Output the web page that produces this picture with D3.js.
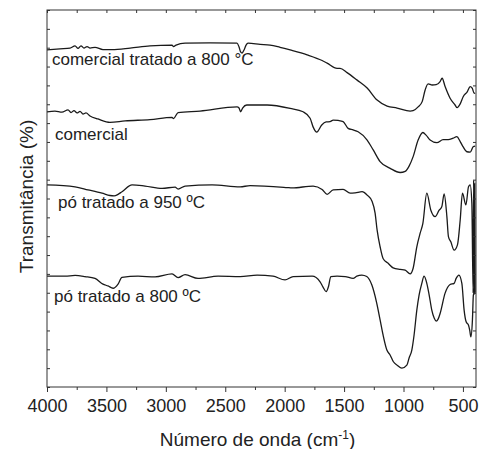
<!DOCTYPE html>
<html>
<head>
<meta charset="utf-8">
<script src="https://cdn.jsdelivr.net/npm/d3@7"></script>
<style>
  body { margin: 0; background: #fff; }
  text { font-family: "Liberation Sans", Arial, sans-serif; fill: #222; }
</style>
</head>
<body>
<div id="chart"></div>
<script>
// FTIR spectra, values (arbitrary transmittance units 0-100)
var comercialTratado800 = [
  [4000, 89.4], [3891, 89.7], [3806, 89.9], [3764, 90.5], [3739, 89.8], [3714, 90.5],
  [3689, 89.9], [3663, 90.3], [3638, 89.9], [3596, 90.1], [3529, 89.5], [3453, 89.5],
  [3301, 89.9], [3133, 90.5], [2948, 90.7], [2935, 90.3], [2914, 90.7], [2838, 91.2],
  [2628, 91.3], [2401, 91.2], [2384, 90.2], [2371, 88.9], [2358, 88.6], [2342, 89.4],
  [2325, 90.7], [2308, 91.2], [2206, 90.9], [2123, 90.7], [2039, 90.1], [1954, 89.4],
  [1811, 88.1], [1685, 86.6], [1643, 85.9], [1559, 84.5], [1534, 84.5], [1475, 83.4],
  [1390, 81.4], [1306, 79.3], [1222, 76.1], [1138, 74.5], [1054, 74.0], [944, 73.2],
  [919, 73.3], [877, 74.3], [843, 75.7], [818, 78.8], [793, 80.4], [759, 80.1],
  [725, 80.2], [692, 81.0], [675, 81.9], [650, 79.7], [608, 76.6], [566, 74.8],
  [549, 74.1], [523, 75.1], [498, 77.0], [464, 78.3], [439, 79.7], [422, 79.3],
  [405, 77.9], [397, 78.0]
];
var comercial = [
  [4000, 73.0], [3933, 73.2], [3874, 72.9], [3823, 73.5], [3798, 72.8], [3773, 73.3],
  [3747, 72.7], [3722, 73.1], [3697, 72.4], [3672, 72.7], [3638, 71.9], [3571, 71.1],
  [3470, 70.2], [3343, 70.6], [3133, 70.9], [2948, 71.5], [2935, 71.2], [2897, 72.8],
  [2712, 73.2], [2401, 74.3], [2384, 74.0], [2371, 73.0], [2354, 74.0], [2319, 74.8],
  [2148, 74.8], [1954, 73.9], [1845, 73.0], [1786, 71.3], [1761, 69.0], [1730, 67.6],
  [1688, 69.5], [1651, 70.3], [1618, 70.4], [1592, 70.8], [1550, 70.7], [1508, 70.4],
  [1466, 68.6], [1424, 68.2], [1382, 67.7], [1306, 65.5], [1255, 62.9], [1197, 59.8],
  [1112, 58.0], [1028, 56.9], [986, 57.2], [953, 58.6], [919, 61.1], [877, 65.5],
  [837, 67.5], [810, 66.8], [776, 65.5], [719, 64.8], [667, 65.6], [624, 65.6],
  [582, 66.0], [551, 66.4], [523, 65.1], [498, 63.7], [467, 62.4], [439, 62.3],
  [414, 63.7], [397, 63.9]
];
var poTratado950 = [
  [4000, 53.6], [3764, 53.1], [3655, 52.3], [3537, 51.4], [3470, 50.8], [3436, 50.7],
  [3402, 51.1], [3369, 51.8], [3284, 53.6], [3175, 53.3], [3032, 52.7], [2922, 53.0],
  [2897, 52.5], [2838, 53.3], [2611, 53.6], [2375, 53.1], [2291, 53.4], [1980, 52.9],
  [1938, 52.8], [1761, 53.3], [1685, 52.4], [1643, 51.1], [1592, 52.3], [1508, 52.4],
  [1449, 51.4], [1407, 51.5], [1348, 51.8], [1306, 50.9], [1264, 49.2], [1239, 46.1],
  [1222, 41.6], [1197, 37.2], [1172, 34.1], [1129, 32.8], [1087, 31.6], [1028, 31.2],
  [986, 31.0], [944, 30.0], [919, 31.5], [888, 37.2], [860, 40.8], [837, 43.4],
  [804, 51.4], [770, 46.9], [734, 45.2], [700, 46.9], [678, 47.8], [658, 51.2],
  [635, 45.2], [622, 39.9], [602, 38.5], [574, 36.3], [546, 37.7], [523, 44.3],
  [504, 51.4], [475, 48.3], [453, 53.1], [439, 53.6], [425, 48.8], [414, 24.9],
  [410, 54.9], [405, 24.5], [401, 54.0], [397, 25.0]
];
var poTratado800 = [
  [4000, 29.4], [3848, 29.4], [3764, 29.6], [3680, 29.3], [3596, 28.8], [3529, 27.3],
  [3487, 26.8], [3444, 26.2], [3402, 27.3], [3369, 29.1], [3234, 29.4], [3091, 29.2],
  [2948, 30.0], [2897, 29.0], [2838, 29.8], [2729, 28.8], [2561, 29.4], [2375, 29.3],
  [2232, 29.7], [2098, 29.4], [1997, 28.4], [1929, 29.3], [1769, 29.4], [1702, 27.9],
  [1677, 26.5], [1651, 25.3], [1630, 26.8], [1612, 29.3], [1559, 29.4], [1491, 29.3],
  [1424, 28.8], [1393, 29.4], [1351, 29.7], [1309, 29.3], [1267, 27.1], [1225, 22.2],
  [1197, 17.8], [1172, 13.8], [1140, 9.8], [1113, 8.5], [1085, 6.7], [1054, 5.8],
  [1014, 5.0], [972, 5.8], [953, 7.7], [930, 9.8], [911, 13.8], [888, 20.4],
  [869, 24.4], [846, 27.5], [827, 29.4], [804, 27.5], [784, 24.4], [762, 20.4],
  [742, 18.3], [725, 17.5], [709, 18.0], [692, 19.5], [650, 24.9], [608, 27.2],
  [574, 27.5], [557, 28.8], [534, 29.7], [509, 27.5], [490, 20.4], [473, 17.3],
  [453, 16.4], [443, 15.1], [433, 13.3], [420, 17.8], [412, 24.4], [405, 24.9],
  [397, 24.7]
];
var series = [comercialTratado800, comercial, poTratado950, poTratado800];
var seriesLabels = ["comercial tratado a 800 °C", "comercial", "pó tratado a 950 ºC", "pó tratado a 800 ºC"];
var majorTicks = [4000, 3500, 3000, 2500, 2000, 1500, 1000, 500];
var minorTicks = [3750, 3250, 2750, 2250, 1750, 1250, 750];

var margin = {top: 10, right: 7, bottom: 62, left: 47},
    width = 483 - margin.left - margin.right,
    height = 449 - margin.top - margin.bottom;

var x = d3.scaleLinear().domain([4000, 390]).range([0, width]);
var y = d3.scaleLinear().domain([0, 100]).range([height, 0]);

var svg = d3.select("#chart").append("svg")
    .attr("width", 483)
    .attr("height", 449)
  .append("g")
    .attr("transform", "translate(" + margin.left + "," + margin.top + ")");

// spectra
var line = d3.line()
    .x(function(d) { return x(d[0]); })
    .y(function(d) { return y(d[1]); })
    .curve(d3.curveMonotoneX);

svg.selectAll(".spec")
    .data(series)
    .enter().append("path")
    .attr("class", "spec")
    .attr("fill", "none")
    .attr("stroke", "#1a1a1a")
    .attr("stroke-width", 1.3)
    .attr("d", line);

// bottom axis
var bottom = svg.append("g")
    .attr("transform", "translate(0," + height + ")")
    .call(d3.axisBottom(x).tickValues(majorTicks).tickSize(5).tickPadding(7).tickFormat(d3.format("d")));
bottom.selectAll("text").style("font-size", "18px");
svg.append("g")
    .attr("transform", "translate(0," + height + ")")
    .call(d3.axisBottom(x).tickValues(minorTicks).tickSize(3).tickFormat(""));

// inward ticks on top / left / right
svg.append("g")
    .call(d3.axisBottom(x).tickValues(majorTicks.concat(minorTicks)).tickSize(3).tickFormat(""));
svg.append("g")
    .call(d3.axisRight(y).ticks(20).tickSize(3).tickFormat(""));
svg.append("g")
    .attr("transform", "translate(" + width + ",0)")
    .call(d3.axisLeft(y).ticks(20).tickSize(3).tickFormat(""));

svg.selectAll(".domain").remove();
svg.selectAll(".tick line").attr("stroke", "#333");

svg.append("rect")
    .attr("width", width)
    .attr("height", height)
    .attr("fill", "none")
    .attr("stroke", "#333")
    .attr("stroke-width", 1);

// curve labels
var labelPos = [[5, 55], [8, 130], [11, 198], [7, 292]];
svg.selectAll(".lbl")
    .data(seriesLabels)
    .enter().append("text")
    .attr("class", "lbl")
    .attr("x", function(d, i) { return labelPos[i][0]; })
    .attr("y", function(d, i) { return labelPos[i][1]; })
    .style("font-size", "17px")
    .text(function(d) { return d; });

// axis titles
var xt = svg.append("text")
    .attr("x", width / 2 - 4)
    .attr("y", height + 59)
    .attr("text-anchor", "middle")
    .style("font-size", "19px");
xt.append("tspan").text("Número de onda (cm");
xt.append("tspan").attr("dy", -7).style("font-size", "12px").text("-1");
xt.append("tspan").attr("dy", 7).text(")");

svg.append("text")
    .attr("transform", "translate(-14," + (height / 2 - 2) + ") rotate(-90)")
    .attr("text-anchor", "middle")
    .style("font-size", "19px")
    .text("Transmitância (%)");
</script>
</body>
</html>
